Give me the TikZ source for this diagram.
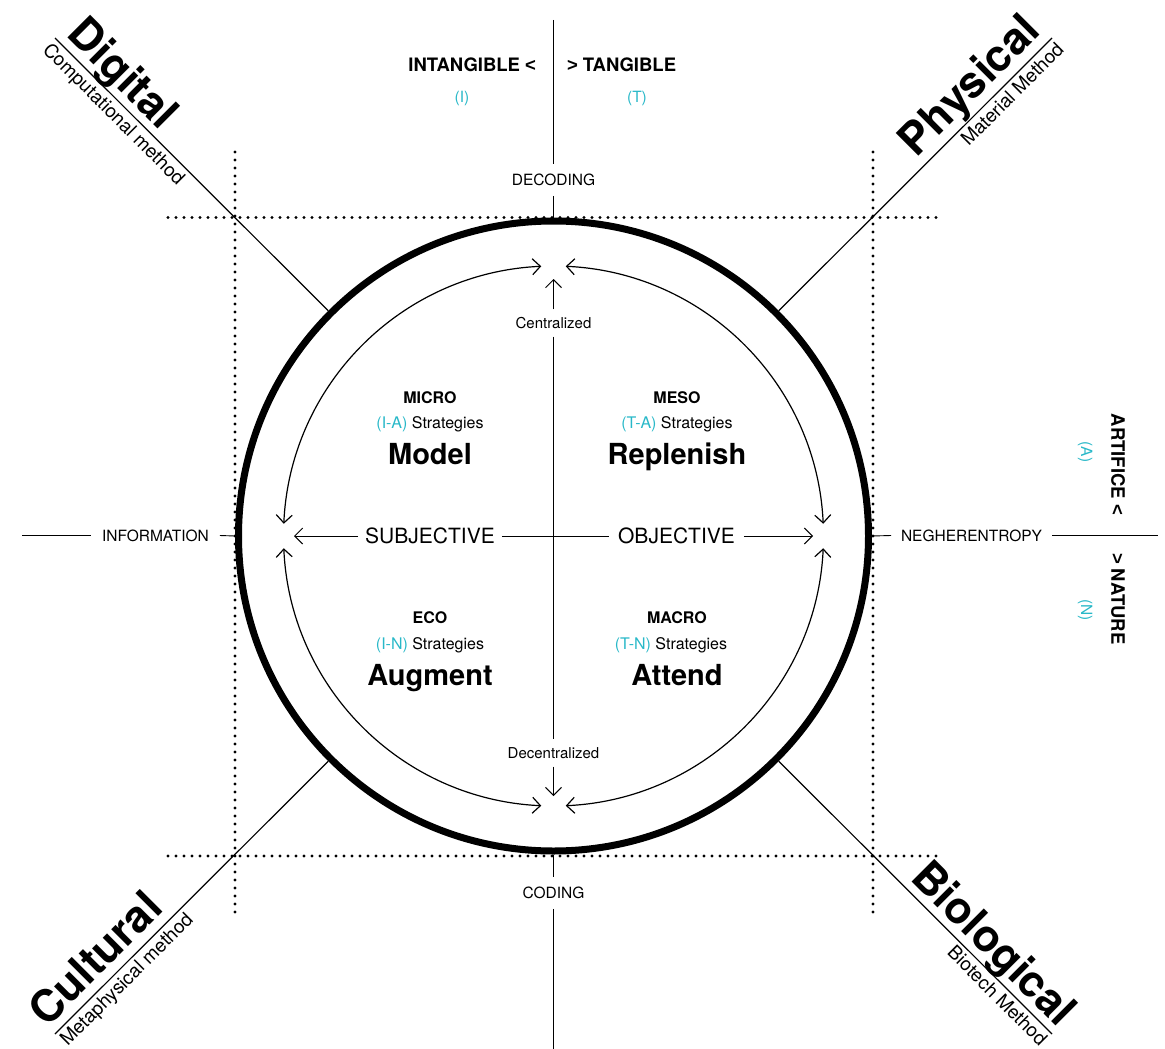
\documentclass[tikz,border=0pt]{standalone}
\usepackage{fontspec}
\setmainfont{TeX Gyre Heros}
\newfontfamily\signfont{Liberation Sans}
\usetikzlibrary{arrows.meta}
\definecolor{accent}{RGB}{40,184,200}
\newcommand\sz[1]{\fontsize{#1}{#1}\selectfont}
\newcommand\lessign{{\signfont\bfseries <}}
\newcommand\moresign{{\signfont\bfseries >}}
\begin{document}
\begin{tikzpicture}[x=1pt,y=-1pt,
  every node/.style={inner sep=0pt, outer sep=0pt},
  axis/.style={line width=0.9pt},
  diag/.style={line width=1.2pt},
  dots/.style={line width=3.1pt, line cap=round, dash pattern=on 0pt off 8pt},
  barb/.style={line width=1pt, -{Straight Barb[length=8pt,width=16pt]}},
  bothbarb/.style={line width=1.2pt, {Straight Barb[length=8pt,width=16pt]}-{Straight Barb[length=8pt,width=16pt]}},
  axlabel/.style={font=\sz{15.5}},
  pole/.style={font=\bfseries\sz{18.5}},
  code/.style={font=\sz{15.5}, text=accent},
  quadhead/.style={font=\bfseries\sz{16}, anchor=base},
  strat/.style={font=\sz{16}, anchor=base},
  verb/.style={font=\bfseries\sz{29}, anchor=base},
  axword/.style={font=\sz{21}},
  flow/.style={font=\sz{15}, inner ysep=8pt},
  title/.style={font=\bfseries\sz{44}},
  subtitle/.style={font=\sz{19}}
]
\useasboundingbox (0,0) rectangle (1165,1049);

% outer ring
\coordinate (c) at (553.5,536);
\node[circle, draw, line width=7pt, minimum size=630pt, outer sep=3.5pt] (ring) at (c) {};

% dotted frame
\coordinate (dTL) at (168,217.5);
\coordinate (dTR) at (940,217.5);
\coordinate (dBL) at (168,856);
\coordinate (dBR) at (940,856);
\coordinate (dLT) at (235,152);
\coordinate (dLB) at (235,918);
\coordinate (dRT) at (873,152);
\coordinate (dRB) at (873,918);
\draw[dots] (dTL) -- (dTR);
\draw[dots] (dBL) -- (dBR);
\draw[dots] (dLT) -- (dLB);
\draw[dots] (dRT) -- (dRB);

% main axes
\coordinate (topEnd) at (553.5,20);
\node[axlabel, inner ysep=10pt] (dec) at (553.5,180) {DECODING};
\draw[axis] (topEnd) -- (dec.north);
\draw[axis] (dec.south) -- (ring.north);

\node[axlabel, inner ysep=10pt] (cod) at (553.5,893) {CODING};
\coordinate (botEnd) at (553.5,1049);
\draw[axis] (ring.south) -- (cod.north);
\draw[axis] (cod.south) -- (botEnd);

\coordinate (leftEnd) at (22,535.5);
\node[axlabel, inner xsep=11pt] (info) at (155.5,535.5) {INFORMATION};
\draw[axis] (leftEnd) -- (info.west);
\draw[axis] (info.east) -- (ring.west);

\node[axlabel, inner xsep=10pt] (neg) at (971.5,535.5) {NEGHERENTROPY};
\coordinate (rightEnd) at (1158,535.5);
\draw[axis] (ring.east) -- (neg.west);
\draw[axis] (neg.east) -- (rightEnd);

% inner cross
\node[flow] (cz) at (553.5,323) {Centralized};
\node[flow] (dz) at (553.5,753) {Decentralized};
\coordinate (topTip) at (553.5,279);
\coordinate (botTip) at (553.5,796);
\draw[barb] (cz.north) -- (topTip);
\draw[axis] (cz.south) -- (dz.north);
\draw[barb] (dz.south) -- (botTip);

\node[axword, inner xsep=7pt] (subj) at (430,536) {SUBJECTIVE};
\node[axword, inner xsep=9pt] (obj) at (676.5,536) {OBJECTIVE};
\coordinate (leftTip) at (294,536);
\coordinate (rightTip) at (813,536);
\draw[barb] (subj.west) -- (leftTip);
\draw[axis] (subj.east) -- (obj.west);
\draw[barb] (obj.east) -- (rightTip);

% inner arcs
\path (c) ++(-92.6:270) coordinate (a1);
\path (c) ++(-87.4:270) coordinate (a2);
\path (c) ++(2.6:270) coordinate (a3);
\path (c) ++(92.6:270) coordinate (a4);
\draw[bothbarb] (a1) arc[start angle=-92.6, end angle=-177.4, radius=270];
\draw[bothbarb] (a2) arc[start angle=-87.4, end angle=-2.6, radius=270];
\draw[bothbarb] (a3) arc[start angle=2.6, end angle=87.4, radius=270];
\draw[bothbarb] (a4) arc[start angle=92.6, end angle=177.4, radius=270];

% diagonals
\coordinate (oNW) at (55,38);
\coordinate (oNE) at (1052,38);
\coordinate (oSW) at (55,1034);
\coordinate (oSE) at (1052,1034);
\draw[diag] (ring.north west) -- (oNW);
\draw[diag] (ring.north east) -- (oNE);
\draw[diag] (ring.south west) -- (oSW);
\draw[diag] (ring.south east) -- (oSE);

% corner titles
\node[title, rotate=-45, anchor=base west] (digital) at (65,36) {Digital};
\node[subtitle, rotate=-45, anchor=north west] (digsub) at (52,41) {Computational method};
\node[title, rotate=45, anchor=base east] (physical) at (1042,33) {Physical};
\node[subtitle, rotate=45, anchor=north east] (physub) at (1055,41) {Material Method};
\node[title, rotate=45, anchor=base west] (cultural) at (47,1028) {Cultural};
\node[subtitle, rotate=45, anchor=north west] (culsub) at (58,1037) {Metaphysical method};
\node[title, rotate=-45, anchor=base east] (biological) at (1058,1028) {Biological};
\node[subtitle, rotate=-45, anchor=north east] (biosub) at (1049,1037) {Biotech Method};

% poles
\node[pole, anchor=base east] (intang) at (536,71.6) {INTANGIBLE \lessign};
\node[pole, anchor=base west] (tang) at (567,71.6) {\moresign{} TANGIBLE};
\node[code] (ci) at (462,98) {(I)};
\node[code] (ct) at (637,98) {(T)};
\node[pole, rotate=-90, anchor=east] (artif) at (1118,515) {ARTIFICE \lessign};
\node[pole, rotate=-90, anchor=west] (nat) at (1118,553) {\moresign{} NATURE};
\node[code, rotate=-90] (ca) at (1085,452) {(A)};
\node[code, rotate=-90] (cn) at (1085,610) {(N)};

% quadrants
\node[quadhead] (micro) at (430,403.7) {MICRO};
\node[strat] (sia) at (430,428.7) {\textcolor{accent}{(I-A)} Strategies};
\node[verb] (model) at (430,464.4) {Model};

\node[quadhead] (meso) at (677,403.7) {MESO};
\node[strat] (sta) at (677,428.7) {\textcolor{accent}{(T-A)} Strategies};
\node[verb] (replenish) at (677,464.4) {Replenish};

\node[quadhead] (eco) at (430,623.7) {ECO};
\node[strat] (sin) at (430,649.7) {\textcolor{accent}{(I-N)} Strategies};
\node[verb] (augment) at (430,685.4) {Augment};

\node[quadhead] (macro) at (677,623.7) {MACRO};
\node[strat] (stn) at (671,649.7) {\textcolor{accent}{(T-N)} Strategies};
\node[verb] (attend) at (677,685.4) {Attend};
\end{tikzpicture}
\end{document}
